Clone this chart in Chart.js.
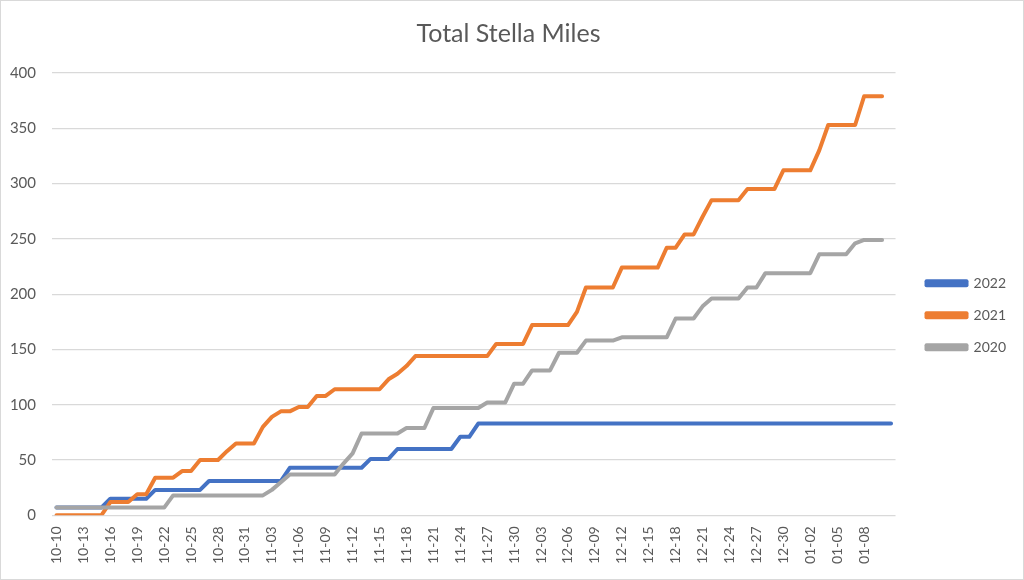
<!DOCTYPE html>
<html>
<head>
<meta charset="utf-8">
<script src="https://cdn.jsdelivr.net/npm/chart.js@4"></script>
<style>
  html, body { margin: 0; padding: 0; background: #fff; }
  #wrap { width: 1024px; height: 580px; box-sizing: border-box; border: 1px solid #d9d9d9; position: relative; }
</style>
</head>
<body>
<div id="wrap"><canvas id="myChart"></canvas></div>
<script>
const days = [
  '10-10','10-11','10-12','10-13','10-14','10-15','10-16','10-17','10-18','10-19','10-20',
  '10-21','10-22','10-23','10-24','10-25','10-26','10-27','10-28','10-29','10-30','10-31',
  '11-01','11-02','11-03','11-04','11-05','11-06','11-07','11-08','11-09','11-10',
  '11-11','11-12','11-13','11-14','11-15','11-16','11-17','11-18','11-19','11-20',
  '11-21','11-22','11-23','11-24','11-25','11-26','11-27','11-28','11-29','11-30',
  '12-01','12-02','12-03','12-04','12-05','12-06','12-07','12-08','12-09','12-10',
  '12-11','12-12','12-13','12-14','12-15','12-16','12-17','12-18','12-19','12-20',
  '12-21','12-22','12-23','12-24','12-25','12-26','12-27','12-28','12-29','12-30','12-31',
  '01-01','01-02','01-03','01-04','01-05','01-06','01-07','01-08','01-09','01-10','01-11'
];

const miles2022 = [
  7, 7, 7, 7, 7, 7, 15, 15, 15, 15, 15,
  23, 23, 23, 23, 23, 23, 31, 31, 31, 31, 31, 31, 31, 31, 31,
  43, 43, 43, 43, 43, 43, 43, 43, 43, 51, 51, 51,
  60, 60, 60, 60, 60, 60, 60, 71, 71,
  83, 83, 83, 83, 83, 83, 83, 83, 83, 83, 83, 83, 83, 83, 83, 83,
  83, 83, 83, 83, 83, 83, 83, 83, 83, 83, 83, 83, 83, 83, 83, 83,
  83, 83, 83, 83, 83, 83, 83, 83, 83, 83, 83, 83, 83, 83, 83
];

const miles2021 = [
  0, 0, 0, 0, 0, 0, 12, 12, 12, 19, 19, 34, 34, 34, 40, 40,
  50, 50, 50, 58, 65, 65, 65, 80, 89, 94, 94, 98, 98, 108, 108,
  114, 114, 114, 114, 114, 114, 123, 128, 135,
  144, 144, 144, 144, 144, 144, 144, 144, 144,
  155, 155, 155, 155, 172, 172, 172, 172, 172, 184,
  206, 206, 206, 206, 224, 224, 224, 224, 224, 242, 242, 254, 254, 270,
  285, 285, 285, 285, 295, 295, 295, 295, 312, 312, 312, 312, 330,
  353, 353, 353, 353, 379, 379, 379
];

const miles2020 = [
  7, 7, 7, 7, 7, 7, 7, 7, 7, 7, 7, 7, 7,
  18, 18, 18, 18, 18, 18, 18, 18, 18, 18, 18, 23, 30,
  37, 37, 37, 37, 37, 37, 47, 56, 74, 74, 74, 74, 74, 79, 79, 79,
  97, 97, 97, 97, 97, 97, 102, 102, 102, 119, 119, 131, 131, 131,
  147, 147, 147, 158, 158, 158, 158, 161, 161, 161, 161, 161, 161,
  178, 178, 178, 189, 196, 196, 196, 196, 206, 206,
  219, 219, 219, 219, 219, 219, 236, 236, 236, 236, 246, 249, 249, 249
];

const yTicks = [0, 50, 100, 150, 200, 250, 300, 350, 400];

const textColor = '#595959';
const gridColor = '#d9d9d9';

function series(label, data, color, order) {
  return {
    label: label,
    data: data,
    borderColor: color,
    backgroundColor: color,
    borderWidth: 4,
    pointRadius: 0,
    tension: 0,
    borderCapStyle: 'round',
    borderJoinStyle: 'round',
    order: order,
  };
}

const ctx = document.getElementById('myChart');

const chart = new Chart(ctx, {
  type: 'line',
  data: {
    labels: days,
    datasets: [
      series('2022', miles2022, '#4472C4', 3),
      series('2021', miles2021, '#ED7D31', 2),
      series('2020', miles2020, '#A5A5A5', 1), // drawn last, on top like Excel
    ],
  },
  options: {
    responsive: true,
    maintainAspectRatio: false,
    animation: false,
    layout: { padding: { left: 0, right: 7, top: 12, bottom: 12 } },
    plugins: {
      tooltip: { enabled: false },
      title: {
        display: true,
        text: 'Total Stella Miles',
        color: textColor,
        font: { family: 'Lato', size: 25, weight: 'normal' },
        padding: { top: 6, bottom: 24 },
      },
      legend: {
        position: 'right',
        align: 'center',
        // empty title only pushes the items down a bit
        title: { display: true, text: ' ', font: { size: 12 }, padding: { top: 36, bottom: 0 } },
        labels: {
          boxWidth: 40,
          boxHeight: 4,
          padding: 18,
          color: textColor,
          font: { family: 'Lato', size: 14 },
          sort: (a, b) => a.datasetIndex - b.datasetIndex,
        },
      },
    },
    scales: {
      x: {
        offset: true,
        grid: { display: false },
        border: { display: false },
        afterFit: (scale) => { scale.paddingLeft = 0; },
        ticks: {
          autoSkip: false,
          minRotation: 90,
          maxRotation: 90,
          color: textColor,
          font: { family: 'Lato', size: 14 },
          callback: (val, i) => (i % 3 === 0 && i < days.length - 1 ? days[i] : ''),
        },
      },
      y: {
        min: 0,
        max: 400,
        afterBuildTicks: (axis) => { axis.ticks = yTicks.map(v => ({ value: v })); },
        afterFit: (scale) => { scale.width = 51; },
        grid: { color: gridColor, lineWidth: 1.3, drawTicks: false },
        border: { display: false },
        ticks: {
          color: textColor,
          padding: 16,
          font: { family: 'Lato', size: 15 },
        },
      },
      // spacer between plot and legend
      gap: {
        type: 'linear',
        position: 'right',
        display: true,
        grid: { display: false },
        border: { display: false },
        ticks: { display: false },
        afterFit: (scale) => { scale.width = 13; },
      },
    },
  },
});
</script>
</body>
</html>
